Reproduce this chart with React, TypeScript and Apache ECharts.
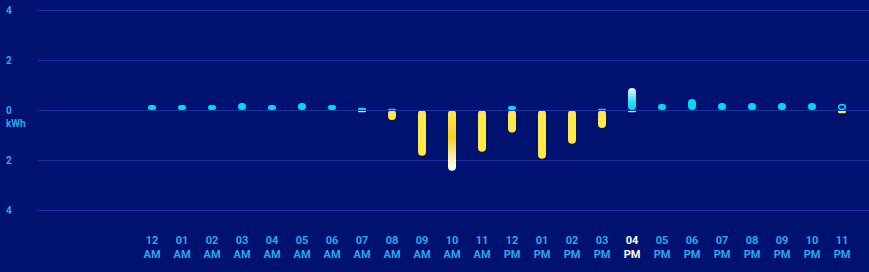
import React, { useEffect, useRef } from "react";
import * as echarts from "echarts";

const hours = ["12", "01", "02", "03", "04", "05", "06", "07", "08", "09", "10", "11", "12", "01", "02", "03", "04", "05", "06", "07", "08", "09", "10", "11"];
const periods = ["AM", "AM", "AM", "AM", "AM", "AM", "AM", "AM", "AM", "AM", "AM", "AM", "PM", "PM", "PM", "PM", "PM", "PM", "PM", "PM", "PM", "PM", "PM", "PM"];
const consumption = [0.2, 0.2, 0.2, 0.28, 0.2, 0.28, 0.2, 0.09, 0.05, 0, 0, 0, 0.16, 0, 0, 0.05, 0.88, 0.24, 0.44, 0.28, 0.28, 0.28, 0.28, 0.24];
const production = [0, 0, 0, 0, 0, 0, 0, 0.09, 0.4, 1.83, 2.43, 1.67, 0.9, 1.95, 1.35, 0.72, 0.09, 0, 0, 0, 0, 0, 0, 0.13];
const yTicks = [-4, -2, 0, 2, 4];
const currentIndex = 16;
const peakProductionIndex = 10;
const hollowIndex = 23;

const BG = "#001270";
const CYAN = "#00d8f0";
const YELLOW = "#ffe84a";
const LABEL = "#2aa6ee";
const GRIDLINE = "#1a30a8";

export default function App() {
  const ref = useRef<HTMLDivElement>(null);
  useEffect(() => {
    if (!ref.current) return;
    const chart = echarts.init(ref.current, null, { renderer: "svg" });
    const categories = hours.map((h, i) => h + "\n" + periods[i]);
    const consData = consumption.map((v, i) => {
      if (i === currentIndex) {
        return {
          value: v,
          itemStyle: {
            color: new echarts.graphic.LinearGradient(0, 0, 0, 1, [
              { offset: 0, color: "#e6fbff" },
              { offset: 0.6, color: "#2fe0f2" },
              { offset: 1, color: CYAN },
            ]),
          },
        };
      }
      if (i === hollowIndex) {
        return { value: v, itemStyle: { color: BG, borderColor: CYAN, borderWidth: 1.5 } };
      }
      return v;
    });
    const prodData = production.map((v, i) => {
      if (i === peakProductionIndex) {
        return {
          value: -v,
          itemStyle: {
            color: new echarts.graphic.LinearGradient(0, 0, 0, 1, [
              { offset: 0, color: YELLOW },
              { offset: 0.45, color: "#f6d21e" },
              { offset: 0.75, color: "#fbeaa0" },
              { offset: 1, color: "#ffffff" },
            ]),
          },
        };
      }
      return -v;
    });
    chart.setOption({
      animation: false,
      backgroundColor: BG,
      grid: [
        { left: 38, right: 0, top: 10, bottom: 62 },
        { left: 137, right: 12, top: 10, bottom: 62 },
      ],
      xAxis: [
        { type: "value", gridIndex: 0, show: false, min: 0, max: 1 },
        {
          type: "category",
          gridIndex: 1,
          data: categories,
          axisLine: { show: false },
          axisTick: { show: false },
          axisLabel: {
            margin: 23,
            fontSize: 11,
            fontWeight: "bold",
            fontFamily: "Roboto, sans-serif",
            lineHeight: 14,
            color: (_v: string, i: number) => (i === currentIndex ? "#ffffff" : LABEL),
          },
        },
      ],
      yAxis: [
        {
          type: "value",
          gridIndex: 0,
          min: yTicks[0],
          max: yTicks[yTicks.length - 1],
          interval: 2,
          axisLine: { show: false },
          axisTick: { show: false },
          splitLine: { lineStyle: { color: GRIDLINE, width: 1 } },
          axisLabel: {
            align: "left",
            margin: 32,
            fontSize: 10,
            fontWeight: "bold",
            fontFamily: "Roboto, sans-serif",
            color: LABEL,
            formatter: (v: number) => String(Math.abs(v)),
          },
        },
        {
          type: "value",
          gridIndex: 1,
          min: yTicks[0],
          max: yTicks[yTicks.length - 1],
          interval: 2,
          show: false,
          splitLine: { show: false },
        },
      ],
      graphic: [
        {
          type: "text",
          left: 6,
          top: 118,
          style: { text: "kWh", fill: LABEL, font: "bold 10px Roboto, sans-serif" },
        },
      ],
      series: [
        {
          type: "bar",
          xAxisIndex: 1,
          yAxisIndex: 1,
          data: consData,
          barWidth: 8,
          barGap: "-100%",
          itemStyle: { color: CYAN, borderRadius: 4 },
        },
        {
          type: "bar",
          xAxisIndex: 1,
          yAxisIndex: 1,
          data: prodData,
          barWidth: 8,
          barGap: "-100%",
          itemStyle: { color: YELLOW, borderRadius: 4 },
          markLine: {
            silent: true,
            symbol: "none",
            label: { show: false },
            lineStyle: { color: GRIDLINE, width: 1, type: "solid" },
            emphasis: { disabled: true },
            data: [{ yAxis: 0 }],
          },
        },
      ],
    });
    return () => chart.dispose();
  }, []);
  return (
    <div
      ref={ref}
      style={{ position: "fixed", left: 0, top: 0, width: 869, height: 272 }}
    />
  );
}
